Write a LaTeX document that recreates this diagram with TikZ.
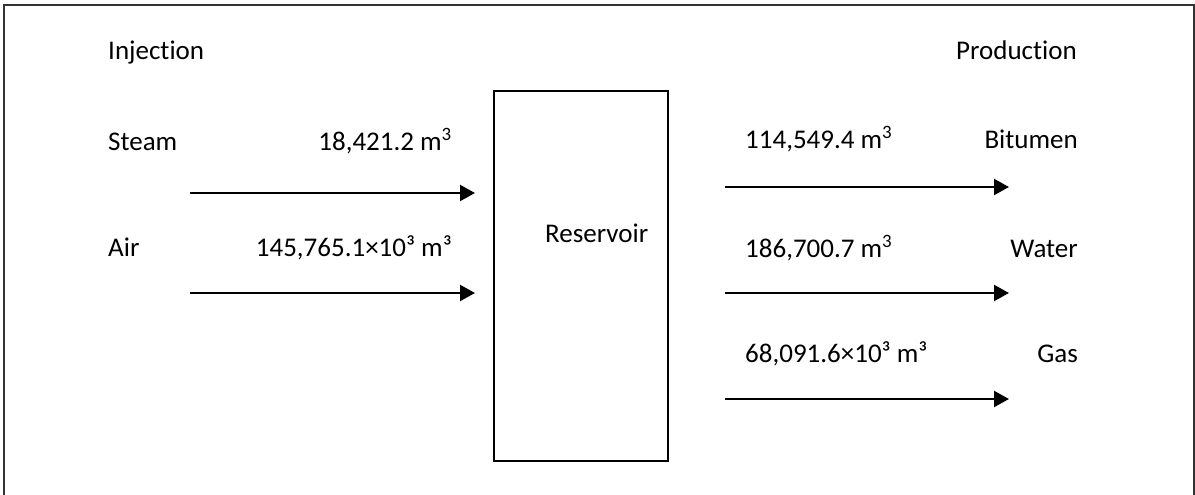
\documentclass[tikz,border=0pt]{standalone}
\usepackage{fontspec}
\setmainfont{Carlito}[Ligatures=NoCommon]
\usetikzlibrary{arrows.meta}
\begin{document}
\begin{tikzpicture}[x=1pt,y=-1pt,
  lbl/.style={inner sep=0pt,font=\fontsize{27}{32}\selectfont},
  flow/.style={line width=2.2pt,-{Triangle[length=15pt,width=16pt]}}]
\useasboundingbox (0,0) rectangle (1195,495);
\clip (0,0) rectangle (1195,495);
% outer frame
\draw[line width=1.5pt,black!80] (4,5) rectangle (1194,520);
% reservoir block
\draw[line width=1.5pt] (494,91) rectangle (668,461);
\node[lbl,anchor=base west] (res) at (545,242) {Reservoir};
% headings
\node[lbl,anchor=base west] (inj) at (108,60) {Injection};
\node[lbl,anchor=base east] (prod) at (1077,60) {Production};
% injected streams
\node[lbl,anchor=base west] (steam) at (108,150) {Steam};
\node[lbl,anchor=base east] (steamv) at (452,150) {18,421.2 m\textsuperscript{3}};
\node[lbl,anchor=base west] (air) at (108,256) {Air};
\node[lbl,anchor=base east] (airv) at (452,256) {145,765.1×10³ m³};
\coordinate (s1) at (190,193); \coordinate (e1) at (475,193);
\coordinate (s2) at (190,293); \coordinate (e2) at (475,293);
\draw[flow] (s1) -- (e1);
\draw[flow] (s2) -- (e2);
% produced streams
\node[lbl,anchor=base west] (bitv) at (745,148) {114,549.4 m\textsuperscript{3}};
\node[lbl,anchor=base east] (bit) at (1078,148) {Bitumen};
\node[lbl,anchor=base west] (watv) at (745,257) {186,700.7 m\textsuperscript{3}};
\node[lbl,anchor=base east] (wat) at (1078,257) {Water};
\node[lbl,anchor=base west] (gasv) at (745,362) {68,091.6×10³ m³};
\node[lbl,anchor=base east] (gas) at (1078,362) {Gas};
\coordinate (s3) at (725,187); \coordinate (e3) at (1009,187);
\coordinate (s4) at (725,293); \coordinate (e4) at (1009,293);
\coordinate (s5) at (725,399); \coordinate (e5) at (1009,399);
\draw[flow] (s3) -- (e3);
\draw[flow] (s4) -- (e4);
\draw[flow] (s5) -- (e5);
\end{tikzpicture}
\end{document}
